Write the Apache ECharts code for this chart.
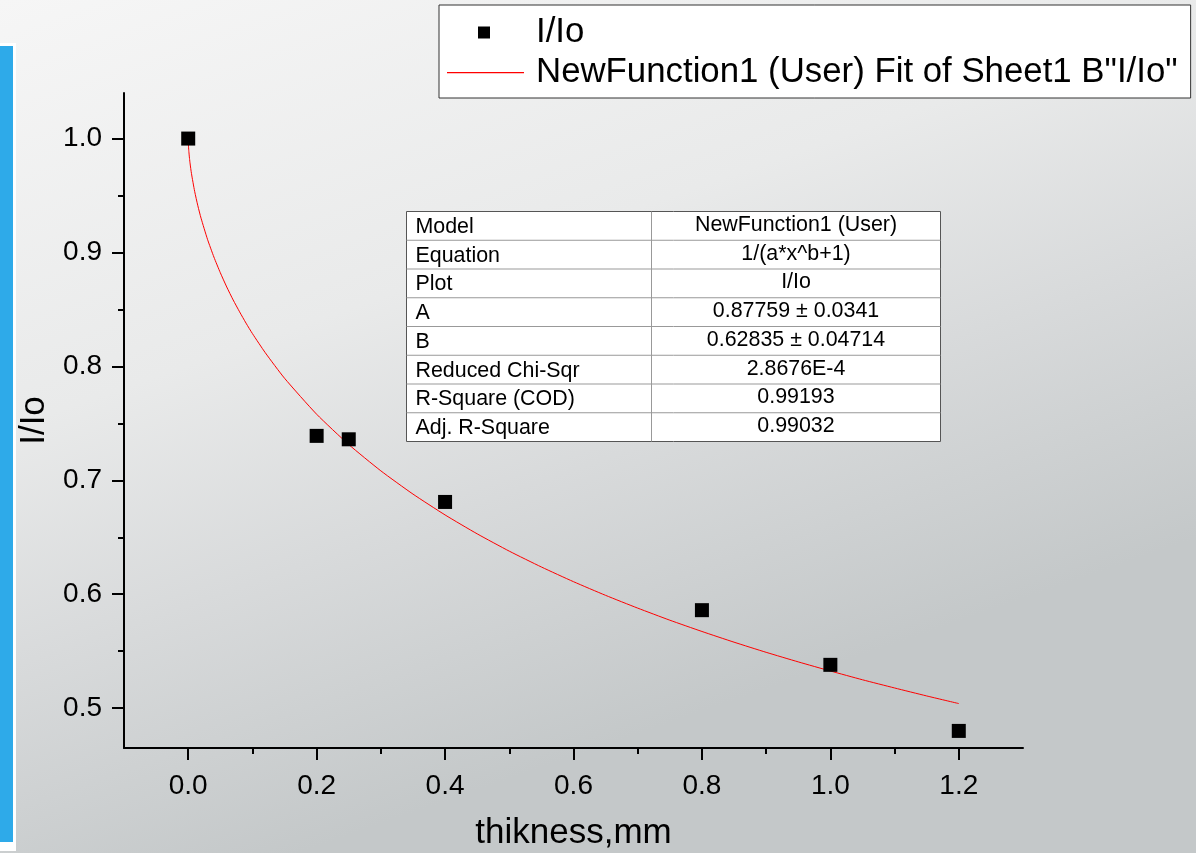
<!DOCTYPE html>
<html>
<head>
<meta charset="utf-8">
<script src="https://cdn.jsdelivr.net/npm/echarts@6.0.0/dist/echarts.min.js"></script>
<style>
  html, body { margin: 0; padding: 0; }
  #chart { width: 1196px; height: 853px; }
</style>
</head>
<body>
<div id="chart"></div>
<script>
// measured points
const thickness = [0, 0.2, 0.25, 0.4, 0.8, 1.0, 1.2];
const ratio = [1.0, 0.739, 0.736, 0.681, 0.586, 0.538, 0.480];

// fit curve 1/(a*x^b+1)
const fitX = [0, 0.0005, 0.001, 0.002, 0.003, 0.005, 0.01, 0.015, 0.02, 0.03, 0.04, 0.05, 0.06, 0.07, 0.08, 0.09,
  0.1, 0.12, 0.15, 0.2, 0.25, 0.3, 0.35, 0.4, 0.45, 0.5, 0.55, 0.6, 0.65, 0.7, 0.75, 0.8, 0.85, 0.9, 0.95,
  1.0, 1.05, 1.1, 1.15, 1.2];
const fitY = [1.0, 0.9927, 0.9887, 0.9826, 0.9777, 0.9695, 0.9537, 0.9410, 0.9301, 0.9116, 0.8960, 0.8822, 0.8697, 0.8583, 0.8479, 0.8380,
  0.8288, 0.8120, 0.7896, 0.7580, 0.7314, 0.7083, 0.6879, 0.6696, 0.6530, 0.6378, 0.6239, 0.6110, 0.5990, 0.5878, 0.5772, 0.5673, 0.5579, 0.5490, 0.5406,
  0.5326, 0.5249, 0.5177, 0.5107, 0.5040];

const xMajor = [0, 0.2, 0.4, 0.6, 0.8, 1.0, 1.2];
const xMinor = [0.1, 0.3, 0.5, 0.7, 0.9, 1.1];
const yMajor = [0.5, 0.6, 0.7, 0.8, 0.9, 1.0];
const yMinor = [0.55, 0.65, 0.75, 0.85, 0.95];

const tableNames = ['Model', 'Equation', 'Plot', 'A', 'B', 'Reduced Chi-Sqr', 'R-Square (COD)', 'Adj. R-Square'];
const tableValues = ['NewFunction1 (User)', '1/(a*x^b+1)', 'I/Io', '0.87759 \u00b1 0.0341', '0.62835 \u00b1 0.04714',
  '2.8676E-4', '0.99193', '0.99032'];

const scatterName = 'I/Io';
const fitName = 'NewFunction1 (User) Fit of Sheet1 B"I/Io"';

const font = 'Liberation Sans, Arial, sans-serif';

// stats table drawn as graphic
function buildTable() {
  const left = 406, top = 211, w = 534, colX = 245, rowH = 28.75;
  const children = [{
    type: 'rect', shape: { x: 0, y: 0, width: w, height: rowH * tableNames.length },
    style: { fill: '#fff', stroke: '#555', lineWidth: 1 }
  }, {
    type: 'line', shape: { x1: colX, y1: 0, x2: colX, y2: rowH * tableNames.length },
    style: { stroke: '#999', lineWidth: 1 }
  }];
  tableNames.forEach((name, i) => {
    if (i > 0) {
      children.push({
        type: 'line', shape: { x1: 0, y1: i * rowH, x2: w, y2: i * rowH },
        style: { stroke: '#999', lineWidth: 1 }
      });
    }
    children.push({
      type: 'text', x: 9, y: i * rowH + rowH / 2 + 1,
      style: { text: name, fill: '#000', font: '21.4px ' + font, verticalAlign: 'middle' }
    });
    children.push({
      type: 'text', x: (colX + w) / 2, y: i * rowH + rowH / 2 - 1,
      style: { text: tableValues[i], fill: '#000', font: '21.4px ' + font, align: 'center', verticalAlign: 'middle' }
    });
  });
  return { type: 'group', x: left + 0.5, y: top + 0.5, children: children };
}

const chart = echarts.init(document.getElementById('chart'));

const axisLineStyle = { color: '#000', width: 2 };

chart.setOption({
  backgroundColor: new echarts.graphic.LinearGradient(0, 0, 0.25, 1, [
    { offset: 0, color: '#f6f6f6' },
    { offset: 0.45, color: '#e9eaea' },
    { offset: 0.7, color: '#d8dadb' },
    { offset: 1, color: '#c4c8c9' }
  ]),
  animation: false,
  textStyle: { fontFamily: font },
  grid: { left: 124, right: 173, top: 93, bottom: 105, containLabel: false, outerBoundsMode: 'none' },
  legend: {
    left: 439, top: 5,
    orient: 'vertical',
    padding: [10, 13, 8, 8],
    itemGap: 5,
    itemWidth: 84, itemHeight: 14,
    backgroundColor: '#fff',
    borderColor: '#333', borderWidth: 1,
    textStyle: { fontSize: 34.8, color: '#000', fontFamily: font },
    data: [
      { name: scatterName, icon: 'path://M0,0M84,14M31,1h12v12h-12Z' },
      { name: fitName, icon: 'path://M0,0M84,14M0,6.5h77v1.2h-77Z' }
    ]
  },
  xAxis: [{
    type: 'value', min: -0.1, max: 1.3, position: 'bottom',
    name: 'thikness,mm', nameLocation: 'middle', nameGap: 68,
    nameTextStyle: { fontSize: 35, color: '#000', fontFamily: font },
    axisLine: { onZero: false, lineStyle: axisLineStyle },
    axisTick: { customValues: xMajor, length: 12, lineStyle: axisLineStyle },
    axisLabel: { customValues: xMajor, margin: 24, fontSize: 28, color: '#000', formatter: v => v.toFixed(1) },
    splitLine: { show: false }
  }, {
    type: 'value', min: -0.1, max: 1.3, position: 'bottom',
    axisLine: { show: false, onZero: false },
    axisTick: { customValues: xMinor, length: 6, lineStyle: axisLineStyle },
    axisLabel: { show: false },
    splitLine: { show: false }
  }],
  yAxis: [{
    type: 'value', min: 0.465, max: 1.04, position: 'left',
    name: 'I/Io', nameLocation: 'middle', nameGap: 72, nameRotate: 90,
    nameTextStyle: { fontSize: 35, color: '#000', fontFamily: font },
    axisLine: { show: true, onZero: false, lineStyle: axisLineStyle },
    axisTick: { show: true, customValues: yMajor, length: 12, lineStyle: axisLineStyle },
    axisLabel: { customValues: yMajor, margin: 22, fontSize: 28, color: '#000', formatter: v => v.toFixed(1) },
    splitLine: { show: false }
  }, {
    type: 'value', min: 0.465, max: 1.04, position: 'left',
    axisLine: { show: false, onZero: false },
    axisTick: { show: true, customValues: yMinor, length: 6, lineStyle: axisLineStyle },
    axisLabel: { show: false },
    splitLine: { show: false }
  }],
  series: [{
    name: fitName,
    type: 'line',
    data: fitX.map((x, i) => [x, fitY[i]]),
    showSymbol: false, symbol: 'none',
    smooth: 0.2,
    color: '#ff0000',
    itemStyle: { color: '#ff0000' },
    lineStyle: { color: '#ff0000', width: 1 },
    z: 2
  }, {
    name: scatterName,
    type: 'scatter',
    data: thickness.map((x, i) => [x, ratio[i]]),
    symbol: 'rect', symbolSize: 14,
    itemStyle: { color: '#000', opacity: 1 },
    z: 3
  }],
  graphic: [
    { type: 'rect', shape: { x: 0, y: 43, width: 16, height: 808 }, style: { fill: '#fff' } },
    { type: 'rect', shape: { x: 0, y: 46, width: 13, height: 796 }, style: { fill: '#2eaae9' } },
    buildTable()
  ]
});
</script>
</body>
</html>
